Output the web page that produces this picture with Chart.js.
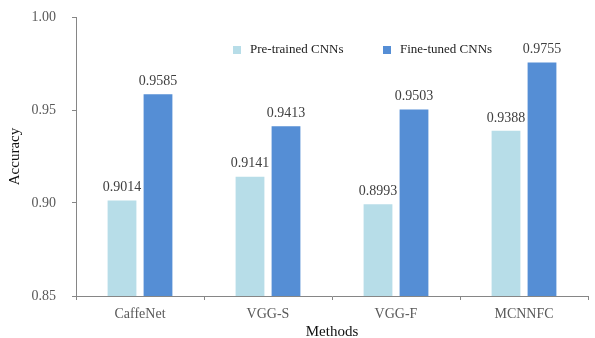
<!DOCTYPE html>
<html>
<head>
<meta charset="utf-8">
<script src="https://cdn.jsdelivr.net/npm/chart.js@4"></script>
<style>
  html, body { margin: 0; padding: 0; background: #fff; }
  #wrap { width: 595px; height: 338px; }
</style>
</head>
<body>
<div id="wrap"><canvas id="chart"></canvas></div>
<script>
// data
const methods = ["CaffeNet", "VGG-S", "VGG-F", "MCNNFC"];
const preTrained = [0.9014, 0.9141, 0.8993, 0.9388];
const fineTuned = [0.9585, 0.9413, 0.9503, 0.9755];
const seriesNames = ["Pre-trained CNNs", "Fine-tuned CNNs"];
const yTicks = [0.85, 0.90, 0.95, 1.00];

const serif = "'Liberation Serif', 'Times New Roman', serif";

// numbers above every bar
const valueLabels = {
    id: 'valueLabels',
    afterDatasetsDraw(chart) {
        const ctx = chart.ctx;
        ctx.save();
        ctx.font = "14px " + serif;
        ctx.fillStyle = "#404040";
        ctx.textAlign = "center";
        ctx.textBaseline = "bottom";
        chart.data.datasets.forEach((ds, i) => {
            chart.getDatasetMeta(i).data.forEach((bar, j) => {
                ctx.fillText(ds.data[j].toFixed(4), bar.x, bar.y - 6);
            });
        });
        ctx.restore();
    }
};

// legend sits inside the plot, top middle
const innerLegend = {
    id: 'innerLegend',
    afterDraw(chart) {
        const ctx = chart.ctx;
        const area = chart.chartArea;
        const y = area.top + 33;
        const starts = [area.left + 157, area.left + 307];
        ctx.save();
        ctx.font = "13px " + serif;
        ctx.textBaseline = "middle";
        chart.data.datasets.forEach((ds, i) => {
            ctx.fillStyle = ds.backgroundColor;
            ctx.fillRect(starts[i], y - 4, 8, 8);
            ctx.fillStyle = "#222";
            ctx.fillText(ds.label, starts[i] + 17, y);
        });
        ctx.restore();
    }
};

new Chart(document.getElementById('chart'), {
    type: 'bar',
    data: {
        labels: methods,
        datasets: [
            {
                label: seriesNames[0],
                data: preTrained,
                backgroundColor: '#b7dde8',
                categoryPercentage: 0.5625,
                barPercentage: 0.8
            },
            {
                label: seriesNames[1],
                data: fineTuned,
                backgroundColor: '#558ed5',
                categoryPercentage: 0.5625,
                barPercentage: 0.8
            }
        ]
    },
    options: {
        responsive: true,
        maintainAspectRatio: false,
        animation: false,
        layout: { padding: { top: 0, right: 7, left: 6, bottom: 0 } },
        plugins: {
            legend: { display: false },
            tooltip: { enabled: false }
        },
        scales: {
            x: {
                grid: { drawOnChartArea: false, tickLength: 4, color: '#868686' },
                border: { color: '#868686' },
                ticks: { color: '#595959', font: { family: serif, size: 14 }, padding: 6 },
                title: { display: true, text: 'Methods', color: '#111', font: { family: serif, size: 15 }, padding: { top: 2, bottom: -3 } },
                afterFit(scale) { scale.height = 42; }
            },
            y: {
                min: 0.85,
                max: 1.00,
                afterBuildTicks(scale) { scale.ticks = yTicks.map(v => ({ value: v })); },
                grid: { drawOnChartArea: false, tickLength: 4, color: '#868686' },
                border: { color: '#868686' },
                ticks: {
                    color: '#595959',
                    font: { family: serif, size: 14 },
                    padding: 16,
                    callback: v => Number(v).toFixed(2)
                },
                title: { display: true, text: 'Accuracy', color: '#111', font: { family: serif, size: 15 }, padding: { top: 0, bottom: 4 } },
                afterFit(scale) {
                    scale.width = 70;
                    scale.paddingTop = 17;
                    scale.paddingBottom = 8;
                }
            }
        }
    },
    plugins: [valueLabels, innerLegend]
});
</script>
</body>
</html>
